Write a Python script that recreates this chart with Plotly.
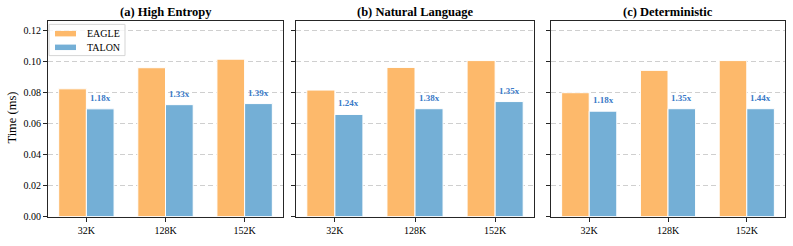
import plotly.graph_objects as go

categories = ["32K", "128K", "152K"]
panel_titles = ["(a) High Entropy", "(b) Natural Language", "(c) Deterministic"]
series_names = ["EAGLE", "TALON"]
eagle = [
    [0.0823, 0.0959, 0.1014],
    [0.0815, 0.0961, 0.1005],
    [0.0798, 0.0942, 0.1005],
]
talon = [
    [0.0694, 0.0721, 0.0728],
    [0.0658, 0.0695, 0.0741],
    [0.0679, 0.0695, 0.0695],
]
speedups = [
    ["1.18x", "1.33x", "1.39x"],
    ["1.24x", "1.38x", "1.35x"],
    ["1.18x", "1.35x", "1.44x"],
]
y_ticks = [0.00, 0.02, 0.04, 0.06, 0.08, 0.10, 0.12]

W, H = 793, 246
ORANGE = "#FDB96B"
BLUE = "#74AFD6"
LABEL = "#3A7BC8"
FONT = "Liberation Serif"
FRAME = "#262626"

x_doms = [(48, 283), (296, 534), (551, 785)]
y_dom = [1 - 222 / H, 1 - 22 / H]

def px(x):
    return x / W

def py(y):
    return 1 - y / H

fig = go.Figure()
xpos = list(range(len(categories)))
annotations = []
shapes = []
for p in range(3):
    xa = "x" if p == 0 else f"x{p+1}"
    ya = "y" if p == 0 else f"y{p+1}"
    fig.add_trace(go.Bar(
        x=xpos, y=eagle[p], width=0.35, offset=-0.35, name=series_names[0],
        marker=dict(color=ORANGE, line=dict(color="white", width=1)),
        xaxis=xa, yaxis=ya, showlegend=False,
    ))
    fig.add_trace(go.Bar(
        x=xpos, y=talon[p], width=0.35, offset=0.0, name=series_names[1],
        marker=dict(color=BLUE, line=dict(color="white", width=1)),
        xaxis=xa, yaxis=ya, showlegend=False,
    ))
    for i, (v, s) in enumerate(zip(talon[p], speedups[p])):
        annotations.append(dict(
            x=i + 0.175, y=v, xref=xa, yref=ya, text=f"<b>{s}</b>",
            showarrow=False, yshift=11, font=dict(family=FONT, size=9, color=LABEL),
        ))
    x0, x1 = x_doms[p]
    annotations.append(dict(
        x=px((x0 + x1) / 2), y=py(12), xref="paper", yref="paper",
        text=f"<b>{panel_titles[p]}</b>", showarrow=False,
        font=dict(family=FONT, size=12.5, color="black"), xanchor="center", yanchor="middle",
    ))
    axis_common = dict(showline=True, linecolor=FRAME, linewidth=1.2, mirror=True,
                       ticks="outside", ticklen=4, tickwidth=1, tickcolor=FRAME)
    fig.layout[("xaxis" if p == 0 else f"xaxis{p+1}")] = dict(
        domain=[px(x0), px(x1)], range=[-0.485, 2.485], tickvals=xpos, ticktext=categories,
        showgrid=False, zeroline=False, anchor=ya,
        tickfont=dict(family=FONT, size=10, color="black"), **axis_common)
    fig.layout[("yaxis" if p == 0 else f"yaxis{p+1}")] = dict(
        domain=y_dom, range=[0, 0.1257], tickvals=y_ticks,
        ticktext=[f"{t:.2f}" for t in y_ticks] if p == 0 else [""] * len(y_ticks),
        showgrid=True, gridcolor="#CFCFCF", griddash="5px,3px", gridwidth=0.8,
        zeroline=False, anchor=xa,
        tickfont=dict(family=FONT, size=10, color="black"), **axis_common)

annotations.append(dict(
    x=px(12.5), y=py(121), xref="paper", yref="paper", text="Time (ms)",
    textangle=-90, showarrow=False, font=dict(family=FONT, size=12.5, color="black"),
    xanchor="center", yanchor="middle",
))

# legend (drawn in panel a, upper left)
shapes.append(dict(type="rect", xref="paper", yref="paper",
                   x0=px(49), x1=px(125), y0=py(57), y1=py(25),
                   line=dict(color="#D5D5D5", width=1), fillcolor="rgba(255,255,255,0.8)"))
for k, (name, col, yc) in enumerate([(series_names[0], ORANGE, 34.5), (series_names[1], BLUE, 48.5)]):
    shapes.append(dict(type="rect", xref="paper", yref="paper",
                       x0=px(55), x1=px(76), y0=py(yc + 2.8), y1=py(yc - 2.8),
                       line=dict(width=0), fillcolor=col))
    annotations.append(dict(x=px(84.5), y=py(yc), xref="paper", yref="paper", text=name,
                            showarrow=False, xanchor="left", yanchor="middle",
                            font=dict(family=FONT, size=10, color="black")))

fig.update_layout(
    width=W, height=H, margin=dict(l=0, r=0, t=0, b=0),
    plot_bgcolor="white", paper_bgcolor="white",
    barmode="overlay", annotations=annotations, shapes=shapes,
    showlegend=False,
    font=dict(family=FONT),
)

fig.write_html("out.html", config={"displayModeBar": False},
               post_script="document.body.style.margin='0px';")
